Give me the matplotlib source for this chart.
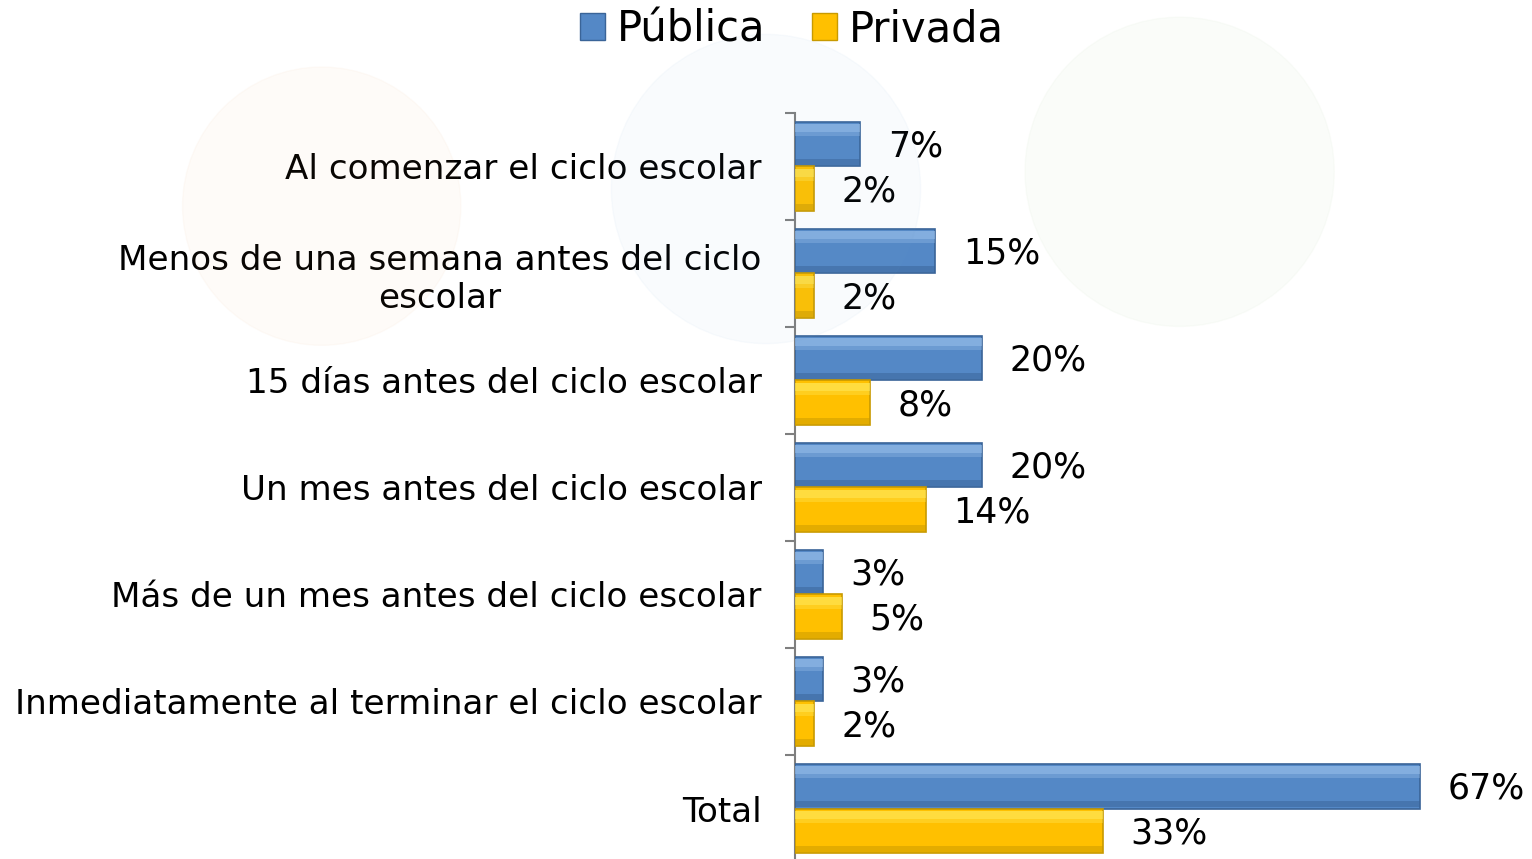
import numpy as np
import matplotlib.pyplot as plt
from matplotlib.patches import Ellipse, Patch

categories = [
    "Al comenzar el ciclo escolar",
    "Menos de una semana antes del ciclo\nescolar",
    "15 días antes del ciclo escolar",
    "Un mes antes del ciclo escolar",
    "Más de un mes antes del ciclo escolar",
    "Inmediatamente al terminar el ciclo escolar",
    "Total",
]
publica = [7, 15, 20, 20, 3, 3, 67]
privada = [2, 2, 8, 14, 5, 2, 33]

blue, blue_hi, blue_lo = "#5488C6", "#A4C8F0", "#3A6498"
gold, gold_hi, gold_lo = "#FFC000", "#FFF06A", "#C89A00"

fig = plt.figure(figsize=(15.32, 8.59), dpi=100)

# faint watermark circles in background
for (cx, cy, r, c) in [(0.21, 0.76, 0.09, "#F4A460"), (0.50, 0.78, 0.10, "#6FA8DC"),
                       (0.77, 0.80, 0.10, "#93C47D")]:
    fig.patches.append(Ellipse((cx, cy), r * 2 * 859 / 1532 * 1.8, r * 2 * 1.8,
                               transform=fig.transFigure, color=c, alpha=0.04, zorder=0))

ax = fig.add_axes([795 / 1532, -0.0035, (1448 - 795) / 1532, 0.872])
ax.patch.set_alpha(0)

y = np.arange(len(categories))
h = 0.42


def bevel_bars(ypos, vals, face, hi, lo):
    ax.barh(ypos, vals, height=h, color=face, edgecolor=lo, linewidth=1.2, zorder=3)
    ax.barh(ypos - h * 0.36, vals, height=h * 0.18, color=hi, alpha=0.6, linewidth=0, zorder=4)
    ax.barh(ypos - h * 0.22, vals, height=h * 0.10, color=hi, alpha=0.3, linewidth=0, zorder=4)
    ax.barh(ypos + h * 0.40, vals, height=h * 0.12, color=lo, alpha=0.5, linewidth=0, zorder=4)


bevel_bars(y - h / 2, publica, blue, blue_hi, blue_lo)
bevel_bars(y + h / 2, privada, gold, gold_hi, gold_lo)

for yi, v in zip(y - h / 2, publica):
    ax.annotate(f"{v}%", (v, yi), xytext=(20, -1.5), textcoords="offset points",
                va="center", ha="left", fontsize=25)
for yi, v in zip(y + h / 2, privada):
    ax.annotate(f"{v}%", (v, yi), xytext=(20, -1.5), textcoords="offset points",
                va="center", ha="left", fontsize=25)

ax.set_xlim(0, 70)
ax.set_ylim(len(categories) - 0.5, -0.5)
ax.set_yticks(y)
ax.set_yticklabels(categories, fontsize=24.6, multialignment="center")
ax.tick_params(axis="y", which="major", length=0, pad=24)
ax.set_yticks(np.arange(len(categories) + 1) - 0.5, minor=True)
ax.tick_params(axis="y", which="minor", length=7, width=1.5, color="#7F7F7F")
ax.set_xticks([])
for s in ["top", "right", "bottom"]:
    ax.spines[s].set_visible(False)
ax.spines["left"].set_color("#7F7F7F")
ax.spines["left"].set_linewidth(1.5)

# legend
handles = [Patch(facecolor=blue, edgecolor=blue_lo), Patch(facecolor=gold, edgecolor=gold_lo)]
fig.legend(handles, ["Pública", "Privada"], loc="center", bbox_to_anchor=(792 / 1532, 1 - 29 / 859),
           ncol=2, frameon=False, fontsize=30, handlelength=0.6, handleheight=0.6,
           handletextpad=0.3, columnspacing=1.1)

fig.savefig("out.png", dpi=100)
